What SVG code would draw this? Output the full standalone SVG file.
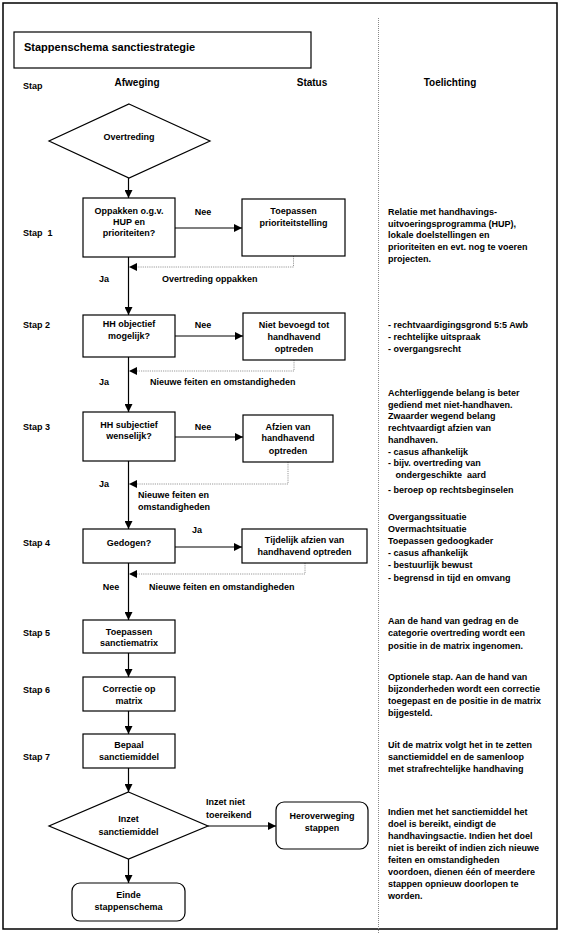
<svg xmlns="http://www.w3.org/2000/svg" width="561" height="933" viewBox="0 0 561 933">
<defs>
<style>
text{font-family:"Liberation Sans",Arial,sans-serif;font-size:9px;font-weight:bold;fill:#000}
.c{text-anchor:middle}
.h{font-size:10px}
.t{font-size:11px}
.box{fill:#fff;stroke:#000;stroke-width:1.2}
.ln{fill:none;stroke:#000;stroke-width:1.2}
.dot{fill:none;stroke:#999;stroke-width:1;stroke-dasharray:1.2 1}
</style>
<marker id="ah" viewBox="0 0 8 8" refX="8" refY="4" markerWidth="8" markerHeight="8" markerUnits="userSpaceOnUse" orient="auto">
<path d="M0,0 L8,4 L0,8 z" fill="#000"/>
</marker>
</defs>
<rect x="0" y="0" width="561" height="933" fill="#fff"/>
<rect x="3" y="3" width="554" height="926" fill="none" stroke="#000" stroke-width="1.5"/>
<line x1="378.5" y1="18" x2="378.5" y2="933" stroke="#888" stroke-width="1" stroke-dasharray="1 1"/>
<g id="title">
<rect x="14" y="32" width="297" height="36" class="box"/>
<text x="24" y="50.5" class="t">Stappenschema sanctiestrategie</text>
</g>
<g id="headers">
<text x="23" y="89">Stap</text>
<text x="137" y="85.5" class="c h">Afweging</text>
<text x="312" y="85.5" class="c h">Status</text>
<text x="450" y="85.5" class="c h">Toelichting</text>
</g>
<g id="stap-labels">
<text x="23" y="236" xml:space="preserve">Stap  1</text>
<text x="23" y="328">Stap 2</text>
<text x="23" y="430">Stap 3</text>
<text x="23" y="546">Stap 4</text>
<text x="23" y="636">Stap 5</text>
<text x="23" y="693">Stap 6</text>
<text x="23" y="760">Stap 7</text>
</g>
<g id="connectors">
<line x1="128.5" y1="178" x2="128.5" y2="198" class="ln" marker-end="url(#ah)"/>
<line x1="175" y1="228" x2="242" y2="228" class="ln" marker-end="url(#ah)"/>
<polyline points="293.5,256 293.5,267 129,267" class="dot" marker-end="url(#ah)"/>
<line x1="128.5" y1="257" x2="128.5" y2="315" class="ln" marker-end="url(#ah)"/>
<line x1="175" y1="336" x2="243" y2="336" class="ln" marker-end="url(#ah)"/>
<polyline points="294,360 294,371 129,371" class="dot" marker-end="url(#ah)"/>
<line x1="128.5" y1="357" x2="128.5" y2="412" class="ln" marker-end="url(#ah)"/>
<line x1="175" y1="437" x2="243" y2="437" class="ln" marker-end="url(#ah)"/>
<polyline points="288,462 288,484 129,484" class="dot" marker-end="url(#ah)"/>
<line x1="128.5" y1="461" x2="128.5" y2="529" class="ln" marker-end="url(#ah)"/>
<line x1="175" y1="547" x2="242" y2="547" class="ln" marker-end="url(#ah)"/>
<polyline points="305,563 305,574 129,574" class="dot" marker-end="url(#ah)"/>
<line x1="128.5" y1="563" x2="128.5" y2="620" class="ln" marker-end="url(#ah)"/>
<line x1="128.5" y1="653" x2="128.5" y2="677" class="ln" marker-end="url(#ah)"/>
<line x1="128.5" y1="711" x2="128.5" y2="734" class="ln" marker-end="url(#ah)"/>
<line x1="128.5" y1="768" x2="128.5" y2="792" class="ln" marker-end="url(#ah)"/>
<line x1="208" y1="826" x2="276" y2="826" class="ln" marker-end="url(#ah)"/>
<line x1="128.5" y1="859" x2="128.5" y2="883" class="ln" marker-end="url(#ah)"/>
<text x="203" y="215" class="c">Nee</text>
<text x="104" y="282" class="c">Ja</text>
<text x="162" y="282">Overtreding oppakken</text>
<text x="203" y="328" class="c">Nee</text>
<text x="104" y="385" class="c">Ja</text>
<text x="150" y="385">Nieuwe feiten en omstandigheden</text>
<text x="203" y="430" class="c">Nee</text>
<text x="104" y="487" class="c">Ja</text>
<text x="138" y="498">Nieuwe feiten en</text>
<text x="138" y="510">omstandigheden</text>
<text x="197" y="533" class="c">Ja</text>
<text x="111" y="590" class="c">Nee</text>
<text x="149" y="590">Nieuwe feiten en omstandigheden</text>
<text x="206" y="805">Inzet niet</text>
<text x="206" y="818">toereikend</text>
</g>
<g id="overtreding">
<polygon points="129,104 210,141 129,178 49,141" class="box"/>
<text x="129" y="140" class="c">Overtreding</text>
</g>
<g id="stap1">
<rect x="83" y="198" width="92" height="59" class="box"/>
<text x="129" y="214" class="c">Oppakken o.g.v.</text>
<text x="129" y="225" class="c">HUP en</text>
<text x="129" y="236" class="c">prioriteiten?</text>
</g>
<g id="status1">
<rect x="242" y="199" width="103" height="57" class="box"/>
<text x="293.5" y="214" class="c">Toepassen</text>
<text x="293.5" y="226" class="c">prioriteitstelling</text>
</g>
<g id="stap2">
<rect x="83" y="315" width="92" height="42" class="box"/>
<text x="129" y="327" class="c">HH objectief</text>
<text x="129" y="339" class="c">mogelijk?</text>
</g>
<g id="status2">
<rect x="243" y="313" width="102" height="47" class="box"/>
<text x="294" y="328" class="c">Niet bevoegd tot</text>
<text x="294" y="340" class="c">handhavend</text>
<text x="294" y="352" class="c">optreden</text>
</g>
<g id="stap3">
<rect x="83" y="412" width="92" height="49" class="box"/>
<text x="129" y="428" class="c">HH subjectief</text>
<text x="129" y="439" class="c">wenselijk?</text>
</g>
<g id="status3">
<rect x="243" y="415" width="90" height="47" class="box"/>
<text x="288" y="430" class="c">Afzien van</text>
<text x="288" y="441" class="c">handhavend</text>
<text x="288" y="454" class="c">optreden</text>
</g>
<g id="stap4">
<rect x="83" y="529" width="92" height="34" class="box"/>
<text x="129" y="546" class="c">Gedogen?</text>
</g>
<g id="status4">
<rect x="242" y="529" width="125" height="34" class="box"/>
<text x="304.5" y="543" class="c">Tijdelijk afzien van</text>
<text x="304.5" y="555" class="c">handhavend optreden</text>
</g>
<g id="stap5">
<rect x="83" y="620" width="92" height="33" class="box"/>
<text x="129" y="635" class="c">Toepassen</text>
<text x="129" y="646" class="c">sanctiematrix</text>
</g>
<g id="stap6">
<rect x="83" y="677" width="92" height="34" class="box"/>
<text x="129" y="692" class="c">Correctie op</text>
<text x="129" y="704" class="c">matrix</text>
</g>
<g id="stap7">
<rect x="83" y="734" width="92" height="34" class="box"/>
<text x="129" y="748" class="c">Bepaal</text>
<text x="129" y="760" class="c">sanctiemiddel</text>
</g>
<g id="inzet">
<polygon points="128.5,792 208,826 128.5,859 49,826" class="box"/>
<text x="128.5" y="822" class="c">Inzet</text>
<text x="128.5" y="835" class="c">sanctiemiddel</text>
</g>
<g id="heroverweging">
<rect x="276" y="802" width="92" height="47" rx="8" class="box"/>
<text x="322" y="819" class="c">Heroverweging</text>
<text x="322" y="831" class="c">stappen</text>
</g>
<g id="einde">
<rect x="72" y="883" width="113" height="38" rx="8" class="box"/>
<text x="128.5" y="898" class="c">Einde</text>
<text x="128.5" y="910" class="c">stappenschema</text>
</g>
<g id="toelichting">
<text x="388" y="215">Relatie met handhavings-</text>
<text x="388" y="226.5">uitvoeringsprogramma (HUP),</text>
<text x="388" y="238">lokale doelstellingen en</text>
<text x="388" y="250">prioriteiten en evt. nog te voeren</text>
<text x="388" y="262">projecten.</text>
<text x="388" y="328">- rechtvaardigingsgrond 5:5 Awb</text>
<text x="388" y="340">- rechtelijke uitspraak</text>
<text x="388" y="352">- overgangsrecht</text>
<text x="388" y="396">Achterliggende belang is beter</text>
<text x="388" y="407.5">gediend met niet-handhaven.</text>
<text x="388" y="419">Zwaarder wegend belang</text>
<text x="388" y="431">rechtvaardigt afzien van</text>
<text x="388" y="442.5">handhaven.</text>
<text x="388" y="454.5">- casus afhankelijk</text>
<text x="388" y="466">- bijv. overtreding van</text>
<text x="388" y="478" xml:space="preserve">   ondergeschikte  aard</text>
<text x="388" y="493">- beroep op rechtsbeginselen</text>
<text x="388" y="520">Overgangssituatie</text>
<text x="388" y="532">Overmachtsituatie</text>
<text x="388" y="544">Toepassen gedoogkader</text>
<text x="388" y="556">- casus afhankelijk</text>
<text x="388" y="568">- bestuurlijk bewust</text>
<text x="388" y="580.5">- begrensd in tijd en omvang</text>
<text x="388" y="624">Aan de hand van gedrag en de</text>
<text x="388" y="636">categorie overtreding wordt een</text>
<text x="388" y="649">positie in de matrix ingenomen.</text>
<text x="388" y="680">Optionele stap. Aan de hand van</text>
<text x="388" y="692">bijzonderheden wordt een correctie</text>
<text x="388" y="704">toegepast en de positie in de matrix</text>
<text x="388" y="716">bijgesteld.</text>
<text x="388" y="748">Uit de matrix volgt het in te zetten</text>
<text x="388" y="760">sanctiemiddel en de samenloop</text>
<text x="388" y="772">met strafrechtelijke handhaving</text>
<text x="388" y="815">Indien met het sanctiemiddel het</text>
<text x="388" y="827">doel is bereikt, eindigt de</text>
<text x="388" y="839">handhavingsactie. Indien het doel</text>
<text x="388" y="851">niet is bereikt of indien zich nieuwe</text>
<text x="388" y="863">feiten en omstandigheden</text>
<text x="388" y="875">voordoen, dienen één of meerdere</text>
<text x="388" y="887">stappen opnieuw doorlopen te</text>
<text x="388" y="899">worden.</text>
</g>
</svg>
